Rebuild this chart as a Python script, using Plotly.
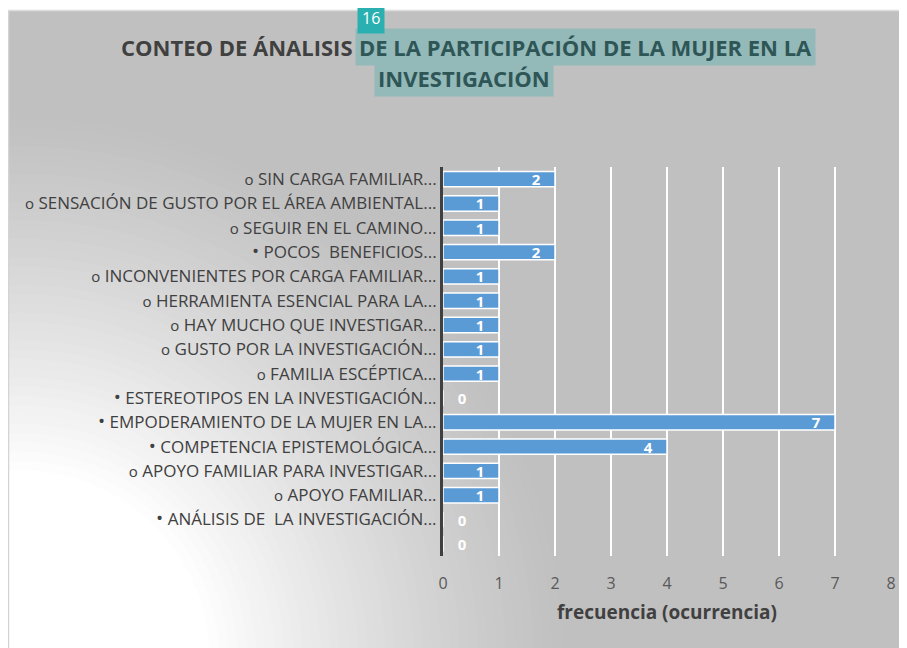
import plotly.graph_objects as go

OPEN = '<span style="font-size:15px">o</span> '
FULL = '<span style="font-size:19px">•</span> '
categories = [
    OPEN + "SIN CARGA FAMILIAR...",
    OPEN + "SENSACIÓN DE GUSTO POR EL ÁREA AMBIENTAL...",
    OPEN + "SEGUIR EN EL CAMINO...",
    FULL + "POCOS  BENEFICIOS...",
    OPEN + "INCONVENIENTES POR CARGA FAMILIAR...",
    OPEN + "HERRAMIENTA ESENCIAL PARA LA...",
    OPEN + "HAY MUCHO QUE INVESTIGAR...",
    OPEN + "GUSTO POR LA INVESTIGACIÓN...",
    OPEN + "FAMILIA ESCÉPTICA...",
    FULL + "ESTEREOTIPOS EN LA INVESTIGACIÓN...",
    FULL + "EMPODERAMIENTO DE LA MUJER EN LA...",
    FULL + "COMPETENCIA EPISTEMOLÓGICA...",
    OPEN + "APOYO FAMILIAR PARA INVESTIGAR...",
    OPEN + "APOYO FAMILIAR...",
    FULL + "ANÁLISIS DE  LA INVESTIGACIÓN...",
    " ",
]
values = [2, 1, 1, 2, 1, 1, 1, 1, 1, 0, 7, 4, 1, 1, 0, 0]
x_ticks = [0, 1, 2, 3, 4, 5, 6, 7, 8]
title_plain = "CONTEO DE ÁNALISIS"
title_high1 = "DE LA PARTICIPACIÓN DE LA MUJER EN LA"
title_high2 = "INVESTIGACIÓN"
badge = "16"
x_title = "frecuencia (ocurrencia)"

# the page body has an 8px margin: figure covers page x 8..907, y 8..648
W, H = 899, 640
L, R, T, B = 435, 883, 159, 548
FONT = "Open Sans, sans-serif"


def px(x):
    return (x - L) / (R - L)


def py(y):
    return (B - y) / (B - T)


fig = go.Figure()
fig.add_trace(go.Bar(
    y=categories,
    x=values,
    orientation="h",
    width=0.63,
    marker=dict(color="#5b9bd5", line=dict(color="white", width=1.5)),
    texttemplate=["<b>%{x}</b>\u00a0\u00a0\u00a0" if v > 0 else "\u00a0\u00a0\u00a0<b>%{x}</b>" for v in values],
    textposition=["inside" if v > 0 else "outside" for v in values],
    insidetextanchor="end",
    textangle=0,
    constraintext="none",
    cliponaxis=False,
    textfont=dict(color="white", size=15, family=FONT),
    hoverinfo="skip",
))

shapes = []
# radial gradient from bottom-left
cx, cy = 12, 652
n = 40
r_out, r_in = 560, 190
for i in range(n + 1):
    t = i / n
    r = r_out - (r_out - r_in) * t
    c = int(192 + (255 - 192) * (t ** 1.2))
    shapes.append(dict(type="circle", xref="paper", yref="paper", layer="below",
                       x0=px(cx - r), x1=px(cx + r), y0=py(cy + r), y1=py(cy - r),
                       fillcolor=f"rgb({c},{c},{c})", line=dict(width=0)))
# white strip at top + panel border
shapes.append(dict(type="rect", xref="paper", yref="paper", layer="below",
                   x0=px(-5), x1=px(W + 5), y0=py(2), y1=py(-5),
                   fillcolor="white", line=dict(width=0)))
shapes.append(dict(type="line", xref="paper", yref="paper", layer="below",
                   x0=px(0.5), x1=px(0.5), y0=py(2), y1=py(H + 5),
                   line=dict(color="#d4d4d4", width=1.5)))
shapes.append(dict(type="line", xref="paper", yref="paper", layer="below",
                   x0=px(0), x1=px(W + 5), y0=py(2.5), y1=py(2.5),
                   line=dict(color="#dcdcdc", width=1.5)))

annotations = [
    dict(text=f"<b>{title_plain}</b>", xref="paper", yref="paper",
         x=px(347), y=py(39), xanchor="right", yanchor="middle", showarrow=False,
         font=dict(family=FONT, size=22, color="#404040")),
    dict(text=f"<b>{title_high1}</b>", xref="paper", yref="paper",
         x=px(347), y=py(39), xanchor="left", yanchor="middle", showarrow=False,
         bgcolor="#94b9b9", borderpad=3,
         font=dict(family=FONT, size=22, color="#2e5656")),
    dict(text=f"<b>{title_high2}</b>", xref="paper", yref="paper",
         x=px(456), y=py(70), xanchor="center", yanchor="middle", showarrow=False,
         bgcolor="#94b9b9", borderpad=3,
         font=dict(family=FONT, size=22, color="#2e5656")),
    dict(text=badge, xref="paper", yref="paper",
         x=px(363), y=py(10), xanchor="center", yanchor="middle", showarrow=False,
         bgcolor="#2ab0b0", borderpad=4,
         font=dict(family=FONT, size=16, color="white")),
]

fig.update_layout(
    width=W, height=H,
    margin=dict(l=L, r=W - R, t=T, b=H - B, autoexpand=False),
    paper_bgcolor="#c0c0c0",
    plot_bgcolor="rgba(0,0,0,0)",
    showlegend=False,
    shapes=shapes,
    annotations=annotations,
    xaxis=dict(
        range=[0, 8], tickvals=x_ticks, showgrid=True, gridcolor="white", gridwidth=1.5,
        zeroline=False, showline=False,
        ticks="outside", ticklen=13, tickcolor="rgba(0,0,0,0)",
        tickfont=dict(family=FONT, size=16, color="#595959"),
        title=dict(text=f"<b>{x_title}</b>", standoff=12,
                   font=dict(family=FONT, size=19, color="#404040")),
        fixedrange=True,
    ),
    yaxis=dict(
        autorange="reversed", type="category",
        showline=True, linecolor="#404040", linewidth=3,
        showgrid=False, zeroline=False,
        ticks="",
        tickfont=dict(family=FONT, size=17, color="#404040"),
        fixedrange=True,
    ),
)

fig.write_html("out.html")
